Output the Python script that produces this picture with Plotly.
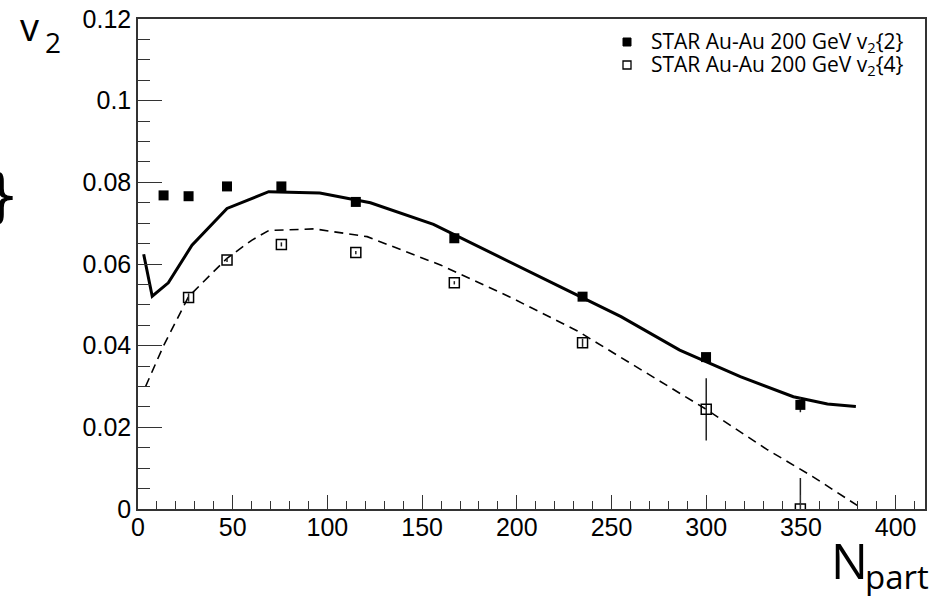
import plotly.graph_objects as go

# ---- data ----
npart_v22 = [13.5, 26.7, 47.0, 75.7, 115.0, 167.0, 234.7, 299.9, 349.7]
v22 = [0.0768, 0.0766, 0.0790, 0.0790, 0.0752, 0.0663, 0.0520, 0.0372, 0.0255]
v22_err = [0.0004, 0.0004, 0.0005, 0.0008, 0.0006, 0.0007, 0.0006, 0.0010, 0.0018]

npart_v24 = [26.7, 47.0, 75.7, 115.0, 167.0, 234.7, 300.0, 349.7]
v24 = [0.0518, 0.0610, 0.0648, 0.0628, 0.0554, 0.0407, 0.0244, 0.0]
v24_err = [0.0010, 0.0005, 0.0005, 0.0004, 0.0004, 0.0010, 0.0076, 0.0076]

model2_x = [3, 7.5, 16, 28.5, 47, 69, 96, 122.7, 156, 191, 223, 255, 286, 318, 346, 364, 379]
model2_y = [0.0624, 0.0521, 0.0554, 0.0646, 0.0736, 0.0777, 0.0774, 0.0750, 0.0697,
            0.0618, 0.0544, 0.0471, 0.0389, 0.0324, 0.0275, 0.0257, 0.0251]

model4_x = [4, 13.5, 26.7, 47, 60, 69, 93, 121, 160, 196, 232, 266, 300, 332, 356, 380]
model4_y = [0.0300, 0.0400, 0.0520, 0.0614, 0.0658, 0.0682, 0.0686, 0.0667, 0.0597,
            0.0520, 0.0436, 0.0340, 0.0244, 0.0146, 0.0080, 0.0008]

legend_names = ["STAR Au-Au 200 GeV v<sub>2</sub>{2}", "STAR Au-Au 200 GeV v<sub>2</sub>{4}"]

x_range = [0, 415.5]
y_range = [0, 0.1200]
y_tickvals = [0, 0.02, 0.04, 0.06, 0.08, 0.1, 0.12]
y_ticktext = ["0", "0.02", "0.04", "0.06", "0.08", "0.1", "0.12"]

# ---- layout geometry (pixels) ----
W_FIG, H_FIG = 945, 596
L, R, T, B = 138, 20, 19, 87
PW = W_FIG - L - R
PH = H_FIG - T - B


def px_x(px):
    return (px - L) / PW


def px_y(py):
    return (H_FIG - B - py) / PH


AX = "#333333"

fig = go.Figure()

fig.add_trace(go.Scatter(x=model2_x, y=model2_y, mode="lines",
                         line=dict(color="black", width=3), showlegend=False,
                         hoverinfo="skip"))
fig.add_trace(go.Scatter(x=model4_x, y=model4_y, mode="lines",
                         line=dict(color="black", width=1.6, dash="9px,6px"),
                         showlegend=False, hoverinfo="skip"))

fig.add_trace(go.Scatter(
    x=npart_v22, y=v22, mode="markers", name=legend_names[0], showlegend=False,
    marker=dict(symbol="square", size=10, color="black"),
    error_y=dict(type="data", array=v22_err, width=0, thickness=1.5, color="#222"),
))
fig.add_trace(go.Scatter(
    x=npart_v24, y=v24, mode="markers", name=legend_names[1], showlegend=False,
    marker=dict(symbol="square-open", size=10, color="black", line=dict(width=1.5)),
    error_y=dict(type="data", array=v24_err, width=0, thickness=1.5, color="#222"),
))

tickfont = dict(family="Liberation Sans, Arial, sans-serif", size=25, color="black")

fig.update_xaxes(
    range=x_range, showgrid=False, zeroline=False, automargin=False,
    showline=True, linecolor=AX, linewidth=1.5, mirror=True,
    ticks="inside", ticklen=14, tickwidth=1.3, tickcolor=AX,
    tick0=0, dtick=50, tickfont=tickfont, ticklabelstandoff=-5,
    minor=dict(ticks="inside", ticklen=8, tickwidth=1.3, tickcolor=AX, dtick=10, showgrid=False),
)
fig.update_yaxes(
    range=y_range, showgrid=False, zeroline=False, automargin=False,
    showline=True, linecolor=AX, linewidth=1.5, mirror=True,
    ticks="inside", ticklen=24, tickwidth=1.3, tickcolor=AX,
    tickvals=y_tickvals, ticktext=y_ticktext, tickfont=tickfont,
    minor=dict(ticks="inside", ticklen=12, tickwidth=1.3, tickcolor=AX, dtick=0.005, showgrid=False),
)

title_font = "Open Sans, Noto Sans, sans-serif"
annotations = [
    dict(text="v", x=px_x(18), y=px_y(26), xanchor="left", yanchor="middle",
         font=dict(family=title_font, size=38, color="black")),
    dict(text="2", x=px_x(43), y=px_y(42), xanchor="left", yanchor="middle",
         font=dict(family=title_font, size=28, color="black")),
    dict(text="N", x=px_x(829), y=px_y(560), xanchor="left", yanchor="middle",
         font=dict(family=title_font, size=49, color="black")),
    dict(text="part", x=px_x(863), y=px_y(576), xanchor="left", yanchor="middle",
         font=dict(family=title_font, size=33, color="black")),
    dict(text="}", x=px_x(22), y=px_y(196), xanchor="right", yanchor="middle",
         font=dict(family="DejaVu Sans, sans-serif", size=58, color="black")),
]
# manual legend (text as annotations, symbols as shapes)
legend_rows_y = [42, 65]
for name, ry in zip(legend_names, legend_rows_y):
    annotations.append(dict(text=name, x=px_x(649), y=px_y(ry), xanchor="left", yanchor="middle",
                            font=dict(family=title_font, size=21, color="black")))
for a in annotations:
    a.update(xref="paper", yref="paper", showarrow=False)

shapes = [
    dict(type="rect", xref="paper", yref="paper",
         x0=px_x(623), x1=px_x(631), y0=px_y(46), y1=px_y(38),
         fillcolor="black", line=dict(color="black", width=1)),
    dict(type="rect", xref="paper", yref="paper",
         x0=px_x(623), x1=px_x(631), y0=px_y(69), y1=px_y(61),
         fillcolor="rgba(0,0,0,0)", line=dict(color="black", width=1.3)),
]

fig.update_layout(
    width=W_FIG, height=H_FIG,
    margin=dict(l=L, r=R, t=T, b=B, autoexpand=False),
    paper_bgcolor="white", plot_bgcolor="white",
    showlegend=False,
    annotations=annotations,
    shapes=shapes,
)

fig.write_html("out.html", config={"displayModeBar": False},
               post_script="document.body.style.margin='0px';")
